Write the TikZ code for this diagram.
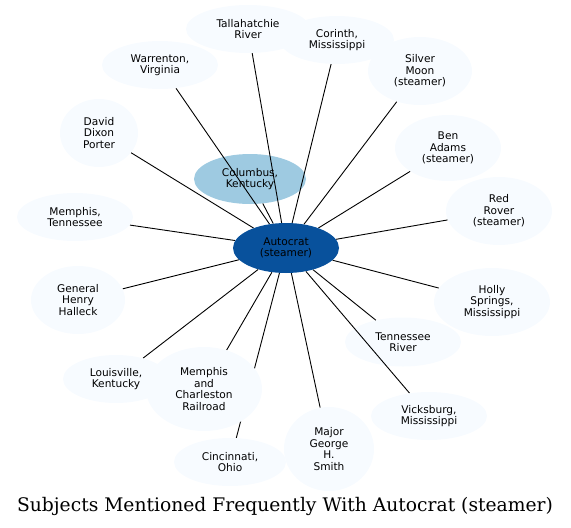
\documentclass[tikz,border=0pt]{standalone}
\usepackage{fontspec}
\newfontfamily\nodefont{DejaVu Sans}
\newfontfamily\titlefont{DejaVu Serif}
\usetikzlibrary{shapes.geometric,backgrounds}
\definecolor{leaf}{HTML}{F7FBFF}
\definecolor{midblue}{HTML}{9ECAE1}
\definecolor{hubblue}{HTML}{08519C}
\begin{document}
\begin{tikzpicture}[x=1pt,y=-1pt,
  bubble/.style={ellipse,fill=leaf,inner sep=0pt,align=center,
    font=\nodefont\fontsize{10.6}{11.5}\selectfont},
  link/.style={draw=black,line width=0.9pt},
  titlestyle/.style={font=\titlefont\fontsize{18.7}{22}\selectfont,inner sep=0pt}]
\useasboundingbox (0,0) rectangle (571,528);
\node[bubble,fill=hubblue,minimum width=106pt,minimum height=50pt] (hub) at (286,248) {Autocrat\\(steamer)};
\node[bubble,minimum width=124pt,minimum height=48pt] (tal) at (248,29) {Tallahatchie\\River};
\node[bubble,minimum width=114pt,minimum height=48pt] (cor) at (337,40) {Corinth,\\Mississippi};
\node[bubble,minimum width=116pt,minimum height=48pt] (war) at (160,65) {Warrenton,\\Virginia};
\node[bubble,minimum width=104pt,minimum height=68pt] (sil) at (420,71) {Silver\\Moon\\(steamer)};
\node[bubble,minimum width=78pt,minimum height=68pt] (ddp) at (99,133) {David\\Dixon\\Porter};
\node[bubble,minimum width=106pt,minimum height=66pt] (ben) at (448,148) {Ben\\Adams\\(steamer)};
\node[bubble,minimum width=116pt,minimum height=48pt] (mte) at (75,217) {Memphis,\\Tennessee};
\node[bubble,minimum width=106pt,minimum height=68pt] (red) at (499,211) {Red\\Rover\\(steamer)};
\node[bubble,minimum width=94pt,minimum height=68pt] (hal) at (78,300) {General\\Henry\\Halleck};
\node[bubble,minimum width=116pt,minimum height=68pt] (hol) at (492,302) {Holly\\Springs,\\Mississippi};
\node[bubble,minimum width=106pt,minimum height=48pt] (lou) at (116,379) {Louisville,\\Kentucky};
\node[bubble,minimum width=116pt,minimum height=48pt] (vic) at (429,416) {Vicksburg,\\Mississippi};
\node[bubble,minimum width=112pt,minimum height=48pt] (cin) at (230,462) {Cincinnati,\\Ohio};
\node[bubble,minimum width=116pt,minimum height=84pt] (mcr) at (204,389) {Memphis\\and\\Charleston\\Railroad};
\node[bubble,minimum width=90pt,minimum height=84pt] (smi) at (329,449) {Major\\George\\H.\\Smith};
\node[titlestyle] (title) at (285,506) {Subjects Mentioned Frequently With Autocrat (steamer)};
\begin{pgfonlayer}{background}
\node[bubble,fill=midblue,minimum width=112pt,minimum height=50pt] (col) at (250,179) {Columbus,\\Kentucky};
\node[bubble,minimum width=116pt,minimum height=49pt] (ten) at (403,342) {Tennessee\\River};
\foreach \t in {tal,cor,war,sil,ddp,ben,mte,red,hal,hol,ten,lou,vic,cin,mcr,smi,col}
  \draw[link] (hub) -- (\t);
\end{pgfonlayer}
\end{tikzpicture}
\end{document}
